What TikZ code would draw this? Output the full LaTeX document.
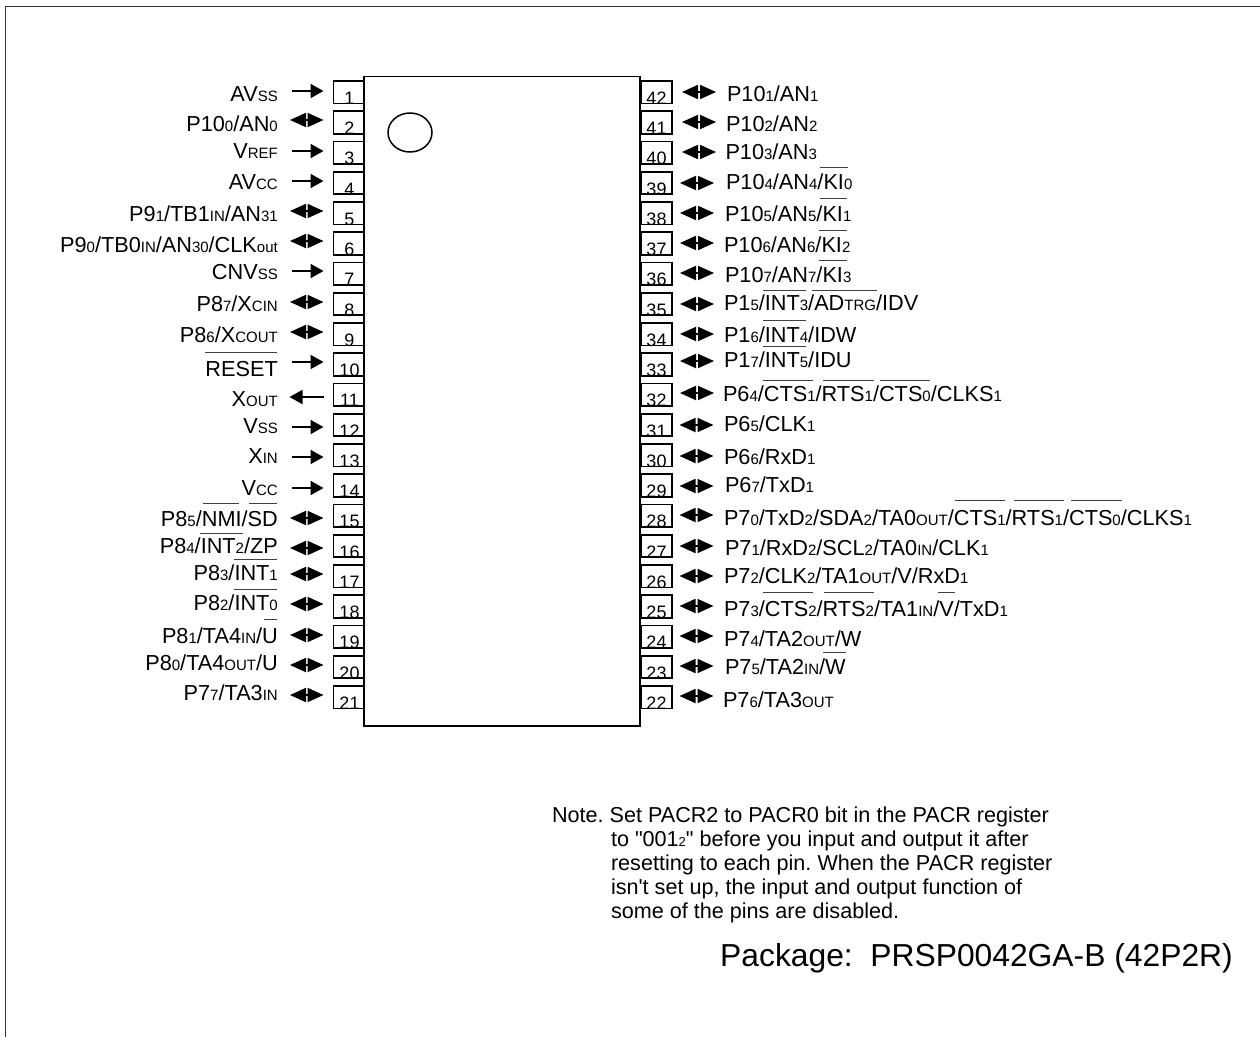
\documentclass[tikz,border=0pt]{standalone}
\usepackage{fontspec}
\setmainfont{Liberation Sans}
\newfontfamily\plainfont{Liberation Sans}
\usetikzlibrary{arrows.meta,shapes.geometric}
\newcommand\sm[1]{{\fontsize{15}{15}\selectfont #1}}
\newcommand\nsm[1]{{\fontsize{13}{13}\selectfont #1}}
\frenchspacing
\tikzset{
  lab/.style={inner sep=0pt,outer sep=0pt,font=\fontsize{21.7}{21.7}\selectfont},
  llab/.style={lab,anchor=base east},
  rlab/.style={lab,anchor=base west},
  pinbox/.style={draw,line width=1.6pt,minimum width=31pt,minimum height=22.5pt,inner sep=0pt,outer sep=0pt,anchor=north west},
  pinnum/.style={inner sep=0pt,outer sep=0pt,anchor=base,font=\fontsize{18}{18}\selectfont},
  ar/.style={line width=1.8pt,-{Triangle[length=13pt,width=14pt]}},
  bi/.style={line width=1.8pt,{Triangle[length=16pt,width=14pt]}-{Triangle[length=16pt,width=14pt]}},
  bar/.style={line width=1pt,draw=black!75},
  notetext/.style={inner sep=0pt,outer sep=0pt,anchor=base west,font=\plainfont\fontsize{21.6}{21.6}\selectfont},
}
% left pin: num, arrow y, style, baseline, text
\newcommand\Lpin[5]{%
  \pgfmathsetmacro\ptop{81+(#1-1)*30.25}%
  \node[pinbox] (p#1) at (333.5,\ptop) {};
  \node[pinnum] (n#1) at (349.5,\ptop+23.3) {#1};
  \coordinate (a#1) at (#3,#2);
  \coordinate (b#1) at (323.5,#2);
  \draw[#3style] (a#1) -- (b#1);
  \node[llab] (t#1) at (277.8,#4) {#5};
}
\newcommand\Rpin[6]{%
  \pgfmathsetmacro\ptop{81+(42-#1)*30.25}%
  \node[pinbox] (p#1) at (641,\ptop) {};
  \node[pinnum] (n#1) at (656.5,\ptop+23.3) {#1};
  \coordinate (a#1) at (#5,#2);
  \coordinate (b#1) at (#5+34,#2);
  \draw[bi] (a#1) -- (b#1);
  \node[rlab] (t#1) at (#3,#4) {#6};
}
\tikzset{292style/.style={ar},290style/.style={bi}}
\begin{document}
\begin{tikzpicture}[x=1pt,y=-1pt]
\useasboundingbox (0,0) rectangle (1260,1037);
\draw[line width=1.2pt,draw=black!80] (1260,6.5) -- (5.2,6.5) -- (5.2,1037);
\node[ellipse,draw,line width=1.5pt,minimum width=44pt,minimum height=39pt,inner sep=0pt] (mark) at (410,132.5) {};

\Lpin{1}{91}{292}{101}{AV\sm{SS}}
\Lpin{2}{120}{290}{131}{P10\sm{0}/AN\sm{0}}
\Lpin{3}{151}{292}{158}{V\sm{REF}}
\Lpin{4}{181}{292}{189}{AV\sm{CC}}
\Lpin{5}{211}{290}{221}{P9\sm{1}/TB1\sm{IN}/AN\sm{31}}
\Lpin{6}{241}{290}{252}{P9\sm{0}/TB0\sm{IN}/AN\sm{30}/CLK\sm{out}}
\Lpin{7}{271}{292}{279}{CNV\sm{SS}}
\Lpin{8}{302}{290}{311}{P8\sm{7}/X\sm{CIN}}
\Lpin{9}{332}{290}{342}{P8\sm{6}/X\sm{COUT}}
\Lpin{10}{362}{292}{376}{RESET}
% pin 11: output arrow
\pgfmathsetmacro\ptop{81+10*30.25}
\node[pinbox] (p11) at (333.5,\ptop) {};
\node[pinnum] (n11) at (349.5,\ptop+23.3) {11};
\coordinate (a11) at (323.5,397);
\coordinate (b11) at (289.5,397);
\draw[ar] (a11) -- (b11);
\node[llab] (t11) at (277.8,406) {X\sm{OUT}};
\Lpin{12}{427}{292}{433}{V\sm{SS}}
\Lpin{13}{457}{292}{463}{X\sm{IN}}
\Lpin{14}{488}{292}{495}{V\sm{CC}}
\Lpin{15}{518}{290}{526}{P8\sm{5}/NMI/SD}
\Lpin{16}{548}{290}{553}{P8\sm{4}/INT\sm{2}/ZP}
\Lpin{17}{574}{290}{580}{P8\sm{3}/INT\sm{1}}
\Lpin{18}{604}{290}{610}{P8\sm{2}/INT\sm{0}}
\Lpin{19}{635}{290}{643}{P8\sm{1}/TA4\sm{IN}/U}
\Lpin{20}{665}{290}{670}{P8\sm{0}/TA4\sm{OUT}/U}
\Lpin{21}{695}{290}{700}{P7\sm{7}/TA3\sm{IN}}

\Rpin{42}{92}{727}{101}{682}{P10\sm{1}/AN\sm{1}}
\Rpin{41}{122}{726}{131}{682}{P10\sm{2}/AN\sm{2}}
\Rpin{40}{152}{725.5}{159}{682}{P10\sm{3}/AN\sm{3}}
\Rpin{39}{183}{726}{189}{680}{P10\sm{4}/AN\sm{4}/KI\sm{0}}
\Rpin{38}{213}{725}{221}{680}{P10\sm{5}/AN\sm{5}/KI\sm{1}}
\Rpin{37}{243}{724}{252}{680}{P10\sm{6}/AN\sm{6}/KI\sm{2}}
\Rpin{36}{273}{725}{282}{680}{P10\sm{7}/AN\sm{7}/KI\sm{3}}
\Rpin{35}{304}{724}{310}{680}{P1\sm{5}/INT\sm{3}/AD\sm{TRG}/IDV}
\Rpin{34}{334}{724}{342}{680}{P1\sm{6}/INT\sm{4}/IDW}
\Rpin{33}{361}{724}{367}{680}{P1\sm{7}/INT\sm{5}/IDU}
\Rpin{32}{393}{723}{401}{680}{P6\sm{4}/CTS\sm{1}/RTS\sm{1}/CTS\sm{0}/CLKS\sm{1}}
\Rpin{31}{425}{724}{431}{679.5}{P6\sm{5}/CLK\sm{1}}
\Rpin{30}{456}{724}{464}{679.5}{P6\sm{6}/RxD\sm{1}}
\Rpin{29}{486}{725}{492}{679.5}{P6\sm{7}/TxD\sm{1}}
\Rpin{28}{515}{724}{525}{679.5}{P7\sm{0}/TxD\sm{2}/SDA\sm{2}/TA0\sm{OUT}/CTS\sm{1}/RTS\sm{1}/CTS\sm{0}/CLKS\sm{1}}
\Rpin{27}{546}{725}{555}{679.5}{P7\sm{1}/RxD\sm{2}/SCL\sm{2}/TA0\sm{IN}/CLK\sm{1}}
\Rpin{26}{576}{724}{583}{679.5}{P7\sm{2}/CLK\sm{2}/TA1\sm{OUT}/V/RxD\sm{1}}
\Rpin{25}{606}{724}{616}{679.5}{P7\sm{3}/CTS\sm{2}/RTS\sm{2}/TA1\sm{IN}/V/TxD\sm{1}}
\Rpin{24}{636}{724}{646}{679.5}{P7\sm{4}/TA2\sm{OUT}/W}
\Rpin{23}{666}{725}{674}{679.5}{P7\sm{5}/TA2\sm{IN}/W}
\Rpin{22}{696}{723}{707}{679.5}{P7\sm{6}/TA3\sm{OUT}}

\node[draw,line width=1.8pt,fill=none,minimum width=275.5pt,minimum height=649.5pt,inner sep=0pt,outer sep=0pt,anchor=north west] (chip) at (364.2,76.5) {};

% overbars
\foreach \xa/\xb/\yy in {205/277/352, 203/239/503, 249/277/503, 200/243/533, 234/277/559, 234/277/589, 264/277/619,
  820/848/167, 820/847/198, 819/847/230, 819/847/260, 763/806/290, 812/877/290, 763/806/320, 763/806/346,
  763/813/380, 823/874/380, 880/930/380, 955/1005/500, 1014/1064/500, 1071/1122/500,
  763/813/592, 824/874/592, 938/955/592, 823/846/652}
  \draw[bar] (\xa,\yy) -- (\xb,\yy);

\node[notetext] (note1) at (552,822) {Note. Set PACR2 to PACR0 bit in the PACR register};
\node[notetext] (note2) at (611,846) {to "001\nsm{2}" before you input and output it after};
\node[notetext] (note3) at (611,870) {resetting to each pin. When the PACR register};
\node[notetext] (note4) at (611,894) {isn't set up, the input and output function of};
\node[notetext] (note5) at (611,918) {some of the pins are disabled.};
\node[inner sep=0pt,anchor=base west,font=\fontsize{31.8}{31.8}\selectfont] (pkg) at (720,966) {Package:\ \ PRSP0042GA-B (42P2R)};
\end{tikzpicture}
\end{document}
